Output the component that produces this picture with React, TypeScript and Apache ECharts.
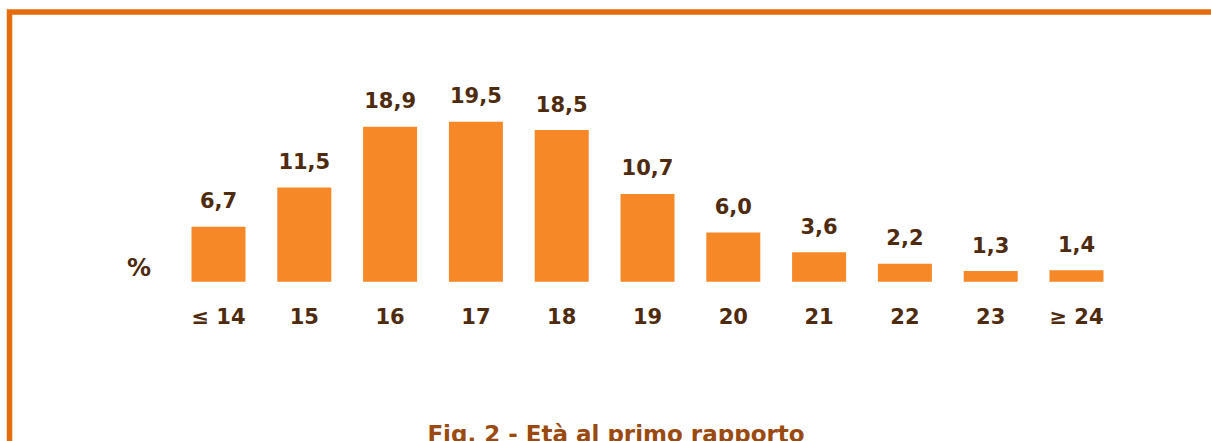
import React, { useEffect, useRef } from "react";
import * as echarts from "echarts";

const categories = ["≤ 14", "15", "16", "17", "18", "19", "20", "21", "22", "23", "≥ 24"];
const values = [6.7, 11.5, 18.9, 19.5, 18.5, 10.7, 6.0, 3.6, 2.2, 1.3, 1.4];
const titleText = "Fig. 2 - Età al primo rapporto";
const unitText = "%";

const FONT = "DejaVu Sans";
const LABEL_COLOR = "#4E2A0E";

export default function App() {
  const ref = useRef<HTMLDivElement>(null);
  useEffect(() => {
    if (!ref.current) return;
    const chart = echarts.init(ref.current, undefined, { renderer: "svg" });
    chart.setOption({
      animation: false,
      backgroundColor: "#ffffff",
      grid: { left: 175.6, top: 117.7, width: 943.8, height: 164 },
      xAxis: {
        type: "category",
        data: categories,
        axisLine: { show: false },
        axisTick: { show: false },
        axisLabel: {
          margin: 25,
          color: LABEL_COLOR,
          fontFamily: FONT,
          fontWeight: "bold",
          fontSize: 21,
        },
      },
      yAxis: { type: "value", min: 0, max: 20, show: false, splitLine: { show: false } },
      series: [
        {
          type: "bar",
          data: values,
          barWidth: 54,
          itemStyle: { color: "#F68828" },
          label: {
            show: true,
            position: "top",
            distance: 15,
            color: LABEL_COLOR,
            fontFamily: FONT,
            fontWeight: "bold",
            fontSize: 21,
            formatter: (p: any) => p.value.toFixed(1).replace(".", ","),
          },
        },
      ],
      graphic: [
        {
          type: "rect",
          shape: { x: 9.5, y: 12, width: 1400, height: 800 },
          style: { fill: "none", stroke: "#E46C0A", lineWidth: 5.5 },
          silent: true,
        },
        {
          type: "text",
          x: 139,
          y: 268,
          style: {
            text: unitText,
            fill: LABEL_COLOR,
            font: `bold 24px "${FONT}"`,
            textAlign: "center",
            textVerticalAlign: "middle",
          },
        },
        {
          type: "text",
          x: 616,
          y: 434,
          style: {
            text: titleText,
            fill: "#9A4A10",
            font: `bold 23px "${FONT}"`,
            textAlign: "center",
            textVerticalAlign: "middle",
          },
        },
      ],
    });
    return () => chart.dispose();
  }, []);
  return (
    <div
      ref={ref}
      style={{ position: "absolute", left: 0, top: 0, width: 1211, height: 441 }}
    />
  );
}
